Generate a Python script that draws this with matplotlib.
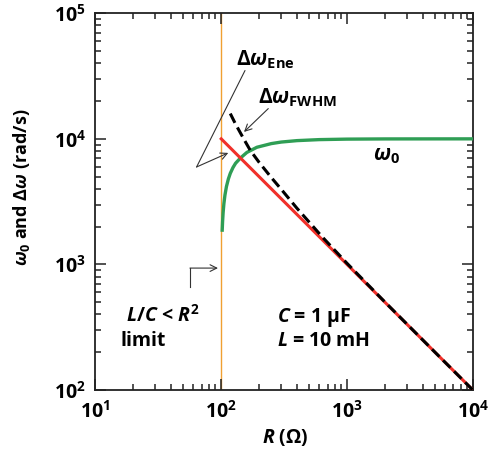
import matplotlib
matplotlib.use("Agg")
import matplotlib.pyplot as plt
from matplotlib.ticker import FuncFormatter
import numpy as np

# values
r_limit = 100  # L/C = R^2 boundary, ohm

r_ene = [100, 10000]
dw_ene = [10000, 100]

r_fwhm = [118, 130, 150, 170, 200, 250, 304, 400, 634, 1000, 2000, 5000, 10000]
dw_fwhm = [15900, 13100, 10100, 8110, 6500, 4920, 3900, 2800, 1660, 1020, 502, 200, 100]

r_w0 = [101.8, 102.5, 103.5, 105, 107, 110, 114, 118, 124, 130, 142, 160, 192,
        250, 300, 400, 600, 1000, 2000, 10000]
w0 = [1875, 2195, 2580, 3050, 3560, 4170, 4800, 5310, 5910, 6390, 7030, 7800, 8570,
      9165, 9430, 9680, 9860, 9950, 9987, 10000]

FONT = 'Open Sans'
plt.rcParams['font.family'] = [FONT, 'DejaVu Sans']
plt.rcParams['font.weight'] = 'bold'
plt.rcParams['axes.labelweight'] = 'bold'
plt.rcParams['font.size'] = 12
plt.rcParams['mathtext.fontset'] = 'custom'
plt.rcParams['mathtext.rm'] = FONT + ':bold'
plt.rcParams['mathtext.bf'] = FONT + ':bold'
plt.rcParams['mathtext.it'] = FONT + ':italic:bold'

fig = plt.figure(figsize=(4.92, 4.58), dpi=100)
ax = fig.add_axes([0.194, 0.1485, 0.767, 0.8225])

ax.axvline(r_limit, color='#F0A032', lw=1.0, zorder=1)
ax.plot(r_w0, w0, color='#2F9E55', lw=2.4, zorder=3)
ax.plot(r_ene, dw_ene, color='#F0302A', lw=2.2, zorder=3)
ax.plot(r_fwhm, dw_fwhm, color='black', lw=2.2, ls=(0, (3.4, 1.7)), zorder=4)

ax.set_xscale('log')
ax.set_yscale('log')
ax.set_xlim(10, 1e4)
ax.set_ylim(1e2, 1e5)

# bold power-of-ten tick labels
pow10 = FuncFormatter(lambda v, pos: r'$\mathbf{10^{%d}}$' % round(np.log10(v)))
ax.xaxis.set_major_formatter(pow10)
ax.yaxis.set_major_formatter(pow10)

for s in ax.spines.values():
    s.set_linewidth(1.3)
    s.set_color('#222222')
ax.tick_params(which='both', direction='in', top=True, right=True, color='#222222', width=1.1)
ax.tick_params(which='major', length=8, labelsize=14)
ax.tick_params(which='minor', length=4)
ax.tick_params(axis='x', which='major', pad=8)
ax.tick_params(axis='y', which='major', pad=7)

ax.set_xlabel(r'$\mathit{R}$ (Ω)', fontsize=14, va='center')
ax.xaxis.set_label_coords(0.502, -0.125)
ax.set_ylabel(r'$\mathit{ω}_{\mathrm{0}}$ and $\mathit{Δω}$ (rad/s)', fontsize=13, va='center')
ax.yaxis.set_label_coords(-0.195, 0.538)

arrow = dict(arrowstyle='->', color='#333333', lw=0.8, mutation_scale=12, shrinkA=0, shrinkB=0)
line = dict(arrowstyle='-', color='#333333', lw=0.8, shrinkA=0, shrinkB=0)

ax.text(131, 38500, r'$\mathit{Δω}_{\mathrm{Ene}}$', fontsize=15, ha='left', va='baseline')
ax.annotate('', xy=(154.5, 35000), xytext=(63.7, 5970), arrowprops=line)
ax.annotate('', xy=(113.7, 7730), xytext=(63.7, 5970), arrowprops=arrow)

ax.text(196, 19200, r'$\mathit{Δω}_{\mathrm{FWHM}}$', fontsize=15, ha='left', va='baseline')
ax.annotate('', xy=(151.7, 11350), xytext=(236.6, 17420), arrowprops=arrow)

ax.text(1614, 6760, r'$\mathit{ω}_{\mathrm{0}}$', fontsize=15, ha='left', va='baseline')

ax.plot([56.4, 56.4], [659, 935], color='#333333', lw=0.8)
ax.annotate('', xy=(94.2, 935), xytext=(56.4, 935), arrowprops=arrow)

ax.text(17.4, 347, r'$\mathit{L/C}$ < $\mathit{R}^{\mathrm{2}}$', fontsize=14, ha='left', va='baseline')
ax.text(15.9, 225, 'limit', fontsize=14, ha='left', va='baseline')
ax.text(277, 347, r'$\mathit{C}$ = 1 µF', fontsize=14, ha='left', va='baseline')
ax.text(277, 225, r'$\mathit{L}$ = 10 mH', fontsize=14, ha='left', va='baseline')

fig.savefig('out.png', dpi=100)
